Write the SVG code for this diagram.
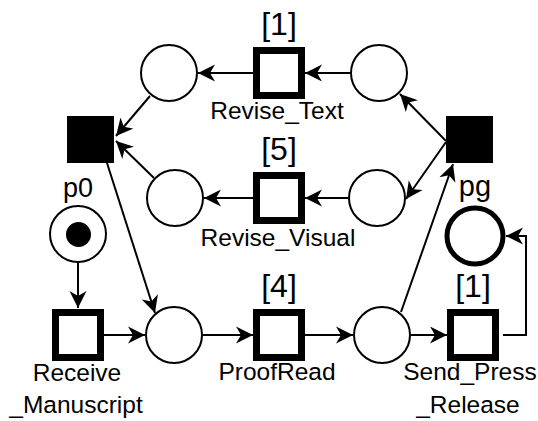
<svg xmlns="http://www.w3.org/2000/svg" width="538" height="421" viewBox="0 0 538 421">
<style>
.t{fill:#fff;stroke:#000;stroke-width:7}
.b{fill:#000}
.p{fill:#fff;stroke:#000;stroke-width:2}
.e{fill:none;stroke:#000;stroke-width:2}
text{font-family:"Liberation Sans",Arial,sans-serif;fill:#000;text-anchor:middle}
.lbl{font-size:24.5px}
.w{font-size:32px}
</style>
<defs>
<marker id="ah" markerWidth="18" markerHeight="18" refX="17" refY="9" orient="auto" markerUnits="userSpaceOnUse">
<path d="M0,0.5 L17,9 L0,17.5 L5,9 z" fill="#000"/>
</marker>
</defs>
<rect width="538" height="421" fill="#fff"/>
<g id="connectors">
<line class="e" x1="350" y1="73" x2="305" y2="73" marker-end="url(#ah)"/>
<line class="e" x1="253" y1="73" x2="198" y2="73" marker-end="url(#ah)"/>
<line class="e" x1="150" y1="96" x2="116" y2="136" marker-end="url(#ah)"/>
<line class="e" x1="154" y1="178" x2="116" y2="141" marker-end="url(#ah)"/>
<line class="e" x1="107" y1="163" x2="155" y2="313" marker-end="url(#ah)"/>
<line class="e" x1="104" y1="335" x2="145" y2="335" marker-end="url(#ah)"/>
<line class="e" x1="203" y1="335" x2="253" y2="335" marker-end="url(#ah)"/>
<line class="e" x1="305" y1="335" x2="353" y2="335" marker-end="url(#ah)"/>
<line class="e" x1="411" y1="335" x2="447" y2="335" marker-end="url(#ah)"/>
<polyline class="e" points="503,335 526,335 526,236 506,236" marker-end="url(#ah)"/>
<line class="e" x1="401" y1="312" x2="453" y2="164" marker-end="url(#ah)"/>
<line class="e" x1="446" y1="141" x2="400" y2="94" marker-end="url(#ah)"/>
<line class="e" x1="446" y1="142" x2="406" y2="199" marker-end="url(#ah)"/>
<line class="e" x1="348" y1="198" x2="305" y2="198" marker-end="url(#ah)"/>
<line class="e" x1="253" y1="198" x2="204" y2="198" marker-end="url(#ah)"/>
<line class="e" x1="78" y1="263" x2="78" y2="308" marker-end="url(#ah)"/>
</g>
<g id="p_top_left"><circle class="p" cx="169" cy="73" r="28"/></g>
<g id="p_top_right"><circle class="p" cx="379" cy="73" r="28"/></g>
<g id="p_mid_left"><circle class="p" cx="175" cy="198" r="28"/></g>
<g id="p_mid_right"><circle class="p" cx="377" cy="198" r="28"/></g>
<g id="p_bot_left"><circle class="p" cx="174" cy="335" r="28"/></g>
<g id="p_bot_right"><circle class="p" cx="382" cy="335" r="28"/></g>
<g id="p0"><circle class="p" cx="78" cy="234" r="28"/><circle cx="78.5" cy="234.5" r="12.5" fill="#000"/><text x="78" y="197" style="font-size:27px">p0</text></g>
<g id="pg"><circle cx="475" cy="236" r="28" fill="#fff" stroke="#000" stroke-width="5"/><text x="475" y="196" style="font-size:29px">pg</text></g>
<g id="join_left"><rect class="b" x="67" y="116" width="47" height="47"/></g>
<g id="split_right"><rect class="b" x="446" y="116" width="47" height="47"/></g>
<g id="Revise_Text"><rect class="t" x="256.5" y="50.5" width="45" height="45"/><text class="w" x="279" y="35">[1]</text><text class="lbl" x="277" y="119">Revise_Text</text></g>
<g id="Revise_Visual"><rect class="t" x="256.5" y="175.5" width="45" height="45"/><text class="w" x="279" y="160">[5]</text><text class="lbl" x="278" y="246">Revise_Visual</text></g>
<g id="ProofRead"><rect class="t" x="256.5" y="312.5" width="45" height="45"/><text class="w" x="279" y="297">[4]</text><text class="lbl" x="277" y="380">ProofRead</text></g>
<g id="Receive_Manuscript"><rect class="t" x="55.5" y="312.5" width="45" height="45"/><text class="lbl" x="77" y="381">Receive</text><text class="lbl" x="76" y="413">_Manuscript</text></g>
<g id="Send_Press_Release"><rect class="t" x="450.5" y="312.5" width="45" height="45"/><text class="w" x="473" y="297">[1]</text><text class="lbl" x="470" y="380">Send_Press</text><text class="lbl" x="468" y="413">_Release</text></g>
</svg>
